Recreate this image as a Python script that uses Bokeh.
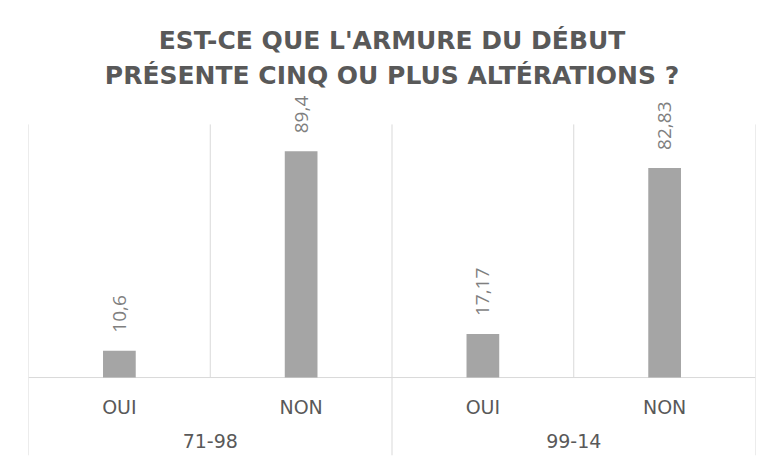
import math
from bokeh.plotting import figure
from bokeh.models import FactorRange, Range1d, Title, ColumnDataSource
from bokeh.core.properties import value
from bokeh.embed import file_html
from bokeh.resources import INLINE

# ---- data ----
groups = ["71-98", "99-14"]
answers = ["OUI", "NON"]
values = [10.6, 89.4, 17.17, 82.83]
title_lines = ["EST-CE QUE L'ARMURE DU DÉBUT", "PRÉSENTE CINQ OU PLUS ALTÉRATIONS ?"]
axis_max = 100

factors = [(g, a) for g in groups for a in answers]
labels = [f"{v:g}".replace(".", ",") for v in values]

# ---- layout ----
Y_TOP = 113.4
Y_BOTTOM = -30.8
ROW1_Y = -11.5
ROW2_Y = -24.9
GRID = "#D9D9D9"
TEXT = "#595959"

p = figure(
    x_range=FactorRange(*factors, range_padding=0, group_padding=0, factor_padding=0),
    y_range=Range1d(Y_BOTTOM, Y_TOP),
    frame_width=727, frame_height=365,
    output_backend="svg", toolbar_location=None,
    x_axis_location=None, y_axis_location=None,
    title=None,
    min_border_left=28, min_border_right=11, min_border_bottom=1, min_border_top=90,
    background_fill_color="white", border_fill_color="white",
)
p.outline_line_color = None
p.xgrid.visible = False
p.ygrid.visible = False

# titles (first added = closest to plot)
for i, line in enumerate(reversed(title_lines)):
    t = Title(text=line, align="center", text_font="DejaVu Sans", text_font_style="bold",
              text_font_size="25px", text_color=TEXT, standoff=[2, 5][i])
    p.add_layout(t, "above")

# grid lines: category boundaries
n_sub = len(answers)
n = len(factors)
full_x = [k * n_sub for k in range(len(groups) + 1)]
short_x = [i for i in range(n + 1) if i not in full_x]
p.segment(x0=full_x, x1=full_x, y0=[Y_BOTTOM] * len(full_x), y1=[axis_max] * len(full_x),
          line_color=GRID, line_width=1)
p.segment(x0=short_x, x1=short_x, y0=[0] * len(short_x), y1=[axis_max] * len(short_x),
          line_color=GRID, line_width=1)
p.segment(x0=[0], x1=[n], y0=[0], y1=[0], line_color=GRID, line_width=1)

# bars
src = ColumnDataSource(dict(x=factors, top=values, label=labels))
p.vbar(x="x", top="top", width=0.18, source=src, fill_color="#A5A5A5", line_color=None)

# data labels
p.text(x="x", y="top", text="label", source=src, angle=math.pi / 2,
       text_align="left", text_baseline="middle", y_offset=-18,
       text_font=value("Open Sans"), text_font_size="19px", text_color="#7F7F7F")

# category labels
p.text(x=factors, y=[ROW1_Y] * n, text=[a for g, a in factors],
       text_align="center", text_baseline="middle",
       text_font=value("DejaVu Sans"), text_font_size="19px", text_color=TEXT)
p.text(x=groups, y=[ROW2_Y] * len(groups), text=groups,
       text_align="center", text_baseline="middle",
       text_font=value("DejaVu Sans"), text_font_size="19px", text_color=TEXT)

open("out.html", "w").write(file_html(p, INLINE))
